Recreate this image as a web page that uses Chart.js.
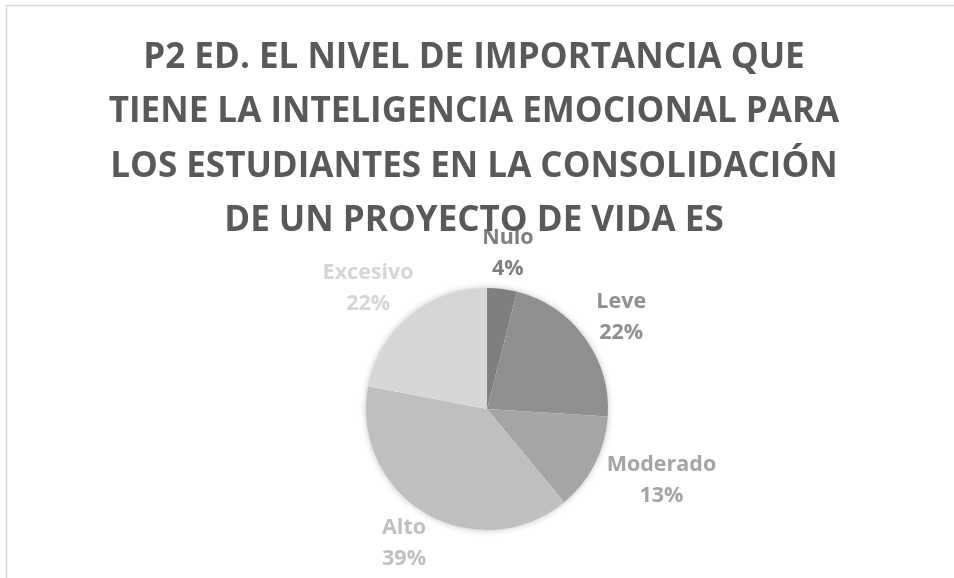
<!DOCTYPE html>
<html>
<head>
<meta charset="utf-8">
<script src="https://cdn.jsdelivr.net/npm/chart.js@4"></script>
<style>
  html, body { margin: 0; padding: 0; background: #ffffff; }
  #wrap { width: 954px; height: 578px; position: relative; }
</style>
</head>
<body>
<div id="wrap"><canvas id="chart" width="954" height="578"></canvas></div>
<script>
// データ
const categories = ['Nulo', 'Leve', 'Moderado', 'Alto', 'Excesivo'];
const percentages = [4, 22, 13, 39, 22];
const sliceColors = ['#7f7f7f', '#8f8f8f', '#a5a5a5', '#bfbfbf', '#d6d6d6'];
const titleLines = [
    'P2 ED. EL NIVEL DE IMPORTANCIA QUE',
    'TIENE LA INTELIGENCIA EMOCIONAL PARA',
    'LOS ESTUDIANTES EN LA CONSOLIDACIÓN',
    'DE UN PROYECTO DE VIDA ES'
];

const FONT = '"Open Sans", "DejaVu Sans", sans-serif';

// 枠線とタイトル
const framePlugin = {
    id: 'frame',
    beforeDraw(chart) {
        const ctx = chart.ctx;
        ctx.save();
        ctx.fillStyle = '#ffffff';
        ctx.fillRect(0, 0, chart.width, chart.height);
        ctx.strokeStyle = '#d9d9d9';
        ctx.lineWidth = 1.5;
        ctx.strokeRect(6.5, 5.5, chart.width + 20, chart.height + 20);
        ctx.restore();
    },
    afterDraw(chart) {
        const ctx = chart.ctx;
        ctx.save();
        ctx.fillStyle = '#595959';
        ctx.font = 'bold 35px ' + FONT;
        ctx.textAlign = 'center';
        ctx.textBaseline = 'middle';
        titleLines.forEach((line, i) => {
            ctx.fillText(line, 474, 58 + i * 54.3);
        });
        ctx.restore();
    }
};

// 円の影
const shadowPlugin = {
    id: 'pieShadow',
    beforeDatasetsDraw(chart) {
        const arc = chart.getDatasetMeta(0).data[0];
        if (!arc) return;
        const ctx = chart.ctx;
        ctx.save();
        ctx.shadowColor = 'rgba(0,0,0,0.28)';
        ctx.shadowBlur = 7;
        ctx.fillStyle = '#ffffff';
        ctx.beginPath();
        ctx.arc(arc.x, arc.y, arc.outerRadius - 0.5, 0, Math.PI * 2);
        ctx.fill();
        ctx.restore();
    }
};

// データラベル（円の外側）
const labelPlugin = {
    id: 'outerLabels',
    afterDatasetsDraw(chart) {
        const ctx = chart.ctx;
        const meta = chart.getDatasetMeta(0);
        const gap = 20;
        const lineH = 31;
        ctx.save();
        ctx.font = 'bold 21.5px ' + FONT;
        ctx.textAlign = 'center';
        ctx.textBaseline = 'middle';
        meta.data.forEach((arc, i) => {
            const mid = (arc.startAngle + arc.endAngle) / 2;
            const cos = Math.cos(mid);
            const sin = Math.sin(mid);
            const l1 = categories[i];
            const l2 = percentages[i] + '%';
            const w = Math.max(ctx.measureText(l1).width, ctx.measureText(l2).width);
            const h = lineH;
            const ax = arc.x + cos * (arc.outerRadius + gap);
            const ay = arc.y + sin * (arc.outerRadius + gap);
            const cx = ax + cos * w / 2;
            const cy = ay + sin * h / 2;
            ctx.fillStyle = sliceColors[i];
            ctx.fillText(l1, cx, cy - lineH / 2);
            ctx.fillText(l2, cx, cy + lineH / 2);
        });
        ctx.restore();
    }
};

new Chart(document.getElementById('chart'), {
    type: 'pie',
    data: {
        labels: categories,
        datasets: [{
            data: percentages,
            backgroundColor: sliceColors,
            borderWidth: 0
        }]
    },
    options: {
        responsive: false,
        animation: false,
        layout: {
            padding: { top: 288, bottom: 48, left: 20, right: 0 }
        },
        plugins: {
            legend: { display: false },
            title: { display: false },
            tooltip: { enabled: false }
        }
    },
    plugins: [framePlugin, shadowPlugin, labelPlugin]
});
</script>
</body>
</html>
